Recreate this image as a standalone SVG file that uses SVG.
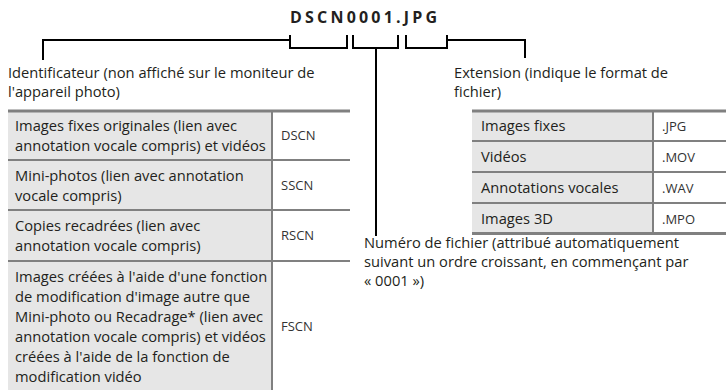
<svg xmlns="http://www.w3.org/2000/svg" width="726" height="390" viewBox="0 0 726 390">
<style>
  text { font-family: "Open Sans", "Noto Sans", "DejaVu Sans", sans-serif; font-size: 14.7px; fill: #231f20; }
  .title { font-weight: bold; font-size: 16px; letter-spacing: 3.2px; }
  .code { font-size: 13px; fill: #333; }
  .conn { stroke: #000; stroke-width: 2; fill: none; }
  .fill { fill: #e6e6e6; }
  .rule { stroke: #808080; stroke-width: 2; fill: none; }
  .top { stroke: #808080; stroke-width: 3; fill: none; }
</style>
<rect width="726" height="390" fill="#fff"/>
<g id="title"><text class="title" x="290" y="23">DSCN0001.JPG</text></g>
<g id="connectors">
  <path class="conn" d="M290,35 V48 H347 V35"/>
  <path class="conn" d="M353,35 V48 H398 V35"/>
  <path class="conn" d="M406,35 V48 H447 V35"/>
  <path class="conn" d="M290,40 H43 V60"/>
  <path class="conn" d="M447,40 H525 V58"/>
  <path class="conn" d="M376,48 V236"/>
</g>
<g id="identifier-label">
  <text x="8" y="78">Identificateur (non affiché sur le moniteur de</text>
  <text x="8" y="97">l'appareil photo)</text>
</g>
<g id="extension-label">
  <text x="454" y="78">Extension (indique le format de</text>
  <text x="454" y="97">fichier)</text>
</g>
<g id="number-label">
  <text x="364" y="248">Numéro de fichier (attribué automatiquement</text>
  <text x="364" y="267">suivant un ordre croissant, en commençant par</text>
  <text x="364" y="286">« 0001 »)</text>
</g>
<g id="identifier-table">
  <rect class="fill" x="8" y="111" width="264" height="279"/>
  <line class="rule" x1="8" y1="160" x2="350" y2="160"/>
  <line class="rule" x1="8" y1="210" x2="350" y2="210"/>
  <line class="rule" x1="8" y1="261" x2="350" y2="261"/>
  <line class="rule" x1="272" y1="111" x2="272" y2="390"/>
  <line class="top" x1="8" y1="111" x2="350" y2="111"/>
  <text x="15" y="131">Images fixes originales (lien avec</text>
  <text x="15" y="151">annotation vocale compris) et vidéos</text>
  <text class="code" x="281" y="140">DSCN</text>
  <text x="15" y="180.5">Mini-photos (lien avec annotation</text>
  <text x="15" y="200.5">vocale compris)</text>
  <text class="code" x="281" y="190">SSCN</text>
  <text x="15" y="231">Copies recadrées (lien avec</text>
  <text x="15" y="251">annotation vocale compris)</text>
  <text class="code" x="281" y="240">RSCN</text>
  <text x="15" y="281.5">Images créées à l'aide d'une fonction</text>
  <text x="15" y="301.5">de modification d'image autre que</text>
  <text x="15" y="321.5">Mini-photo ou Recadrage* (lien avec</text>
  <text x="15" y="341.5">annotation vocale compris) et vidéos</text>
  <text x="15" y="361.5">créées à l'aide de la fonction de</text>
  <text x="15" y="381.5">modification vidéo</text>
  <text class="code" x="281" y="331">FSCN</text>
</g>
<g id="extension-table">
  <rect class="fill" x="472" y="111" width="181" height="123"/>
  <line class="rule" x1="472" y1="141" x2="726" y2="141"/>
  <line class="rule" x1="472" y1="172" x2="726" y2="172"/>
  <line class="rule" x1="472" y1="203" x2="726" y2="203"/>
  <line class="top" x1="472" y1="233.5" x2="726" y2="233.5"/>
  <line class="rule" x1="653" y1="111" x2="653" y2="234"/>
  <line class="top" x1="472" y1="111" x2="726" y2="111"/>
  <text x="481" y="131">Images fixes</text>
  <text class="code" x="662" y="130.5">.JPG</text>
  <text x="481" y="162">Vidéos</text>
  <text class="code" x="662" y="161.5">.MOV</text>
  <text x="481" y="193">Annotations vocales</text>
  <text class="code" x="662" y="192.5">.WAV</text>
  <text x="481" y="224">Images 3D</text>
  <text class="code" x="662" y="223.5">.MPO</text>
</g>
</svg>
